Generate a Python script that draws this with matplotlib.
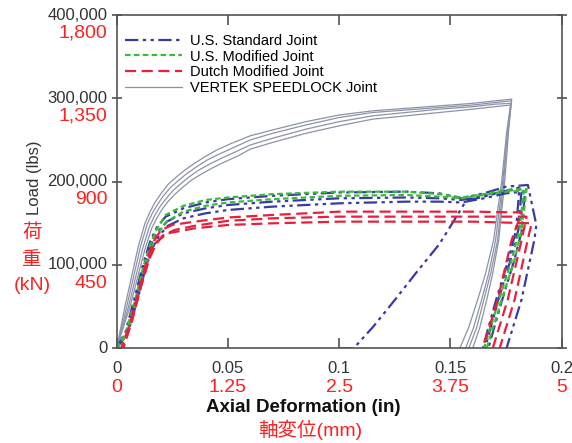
import numpy as np
import matplotlib
matplotlib.use("Agg")
import matplotlib.pyplot as plt

plt.rcParams["font.family"] = ["Liberation Sans", "Noto Sans CJK JP", "DejaVu Sans"]

# ---- data: axial deformation (in) vs load (kips) ----
# VERTEK SPEEDLOCK joint (gray)
gA_x = [0, 0.0037, 0.0067, 0.0097, 0.0127, 0.0150, 0.0172, 0.020, 0.0232, 0.027, 0.0307, 0.035, 0.0397, 0.045, 0.0516,
        0.06, 0.07, 0.085, 0.1, 0.115, 0.13, 0.145, 0.16, 0.17,
        0.1775, 0.1761, 0.1744, 0.1717, 0.1690, 0.1663, 0.1632, 0.1600]
gA_y = [0, 50, 86, 122, 150, 164, 175, 186, 197, 206, 214, 222, 230, 238, 246,
        255, 262, 272, 280, 285, 288, 291, 294, 297,
        299, 260, 200, 130, 90, 58, 25, 0]
gB_x = [0, 0.0045, 0.0076, 0.0107, 0.0137, 0.016, 0.0182, 0.021, 0.0242, 0.028, 0.0317, 0.036, 0.0407, 0.046, 0.0526,
        0.06, 0.07, 0.085, 0.1, 0.115, 0.13, 0.145, 0.16, 0.17,
        0.1775, 0.1757, 0.1735, 0.1703, 0.1672, 0.1640, 0.1604, 0.1568]
gB_y = [0, 50, 86, 122, 149, 162, 172, 183, 193, 202, 210, 218, 226, 233, 241,
        250, 258, 268, 277, 283, 286, 289, 292, 295,
        297, 260, 200, 130, 90, 58, 25, 0]
gC_x = [0, 0.0053, 0.0085, 0.0117, 0.0147, 0.017, 0.0192, 0.022, 0.0252, 0.029, 0.0327, 0.037, 0.0417, 0.047, 0.0536,
        0.06, 0.07, 0.085, 0.1, 0.115, 0.13, 0.145, 0.16, 0.17,
        0.1771, 0.1753, 0.1730, 0.1694, 0.1658, 0.1622, 0.1582, 0.1542]
gC_y = [0, 50, 85, 120, 146, 159, 169, 179, 189, 198, 206, 214, 221, 228, 236,
        244, 252, 263, 272, 279, 283, 287, 290, 293,
        294, 260, 200, 130, 90, 58, 25, 0]
gD_x = [0, 0.006, 0.0094, 0.0127, 0.0157, 0.018, 0.0202, 0.023, 0.0262, 0.030, 0.0337, 0.038, 0.0427, 0.048, 0.0546,
        0.06, 0.07, 0.085, 0.1, 0.115, 0.13, 0.145, 0.16, 0.17,
        0.1771, 0.1757, 0.1739, 0.1712, 0.1681, 0.1650, 0.1618, 0.1582]
gD_y = [0, 50, 85, 119, 144, 156, 166, 176, 185, 194, 202, 209, 216, 223, 231,
        239, 247, 258, 267, 275, 279, 283, 287, 290,
        292, 260, 200, 130, 90, 58, 25, 0]

# U.S. Standard joint (blue)
b1_x = [0, 0.004, 0.008, 0.012, 0.015, 0.018, 0.022, 0.03, 0.04, 0.05, 0.07, 0.1, 0.13, 0.145, 0.155, 0.165, 0.175,
        0.1848, 0.1886, 0.1877, 0.1819, 0.1752]
b1_y = [0, 20, 60, 102, 128, 145, 158, 168, 175, 179, 183, 187, 188, 186, 180, 186, 194, 196, 148, 130, 58, 0]
b2_x = [0, 0.0045, 0.0085, 0.0125, 0.0155, 0.0185, 0.0225, 0.03, 0.04, 0.05, 0.07, 0.1, 0.13, 0.145, 0.155, 0.165,
        0.175, 0.182, 0.1805, 0.177, 0.1715, 0.1655]
b2_y = [0, 20, 58, 100, 125, 140, 152, 162, 168, 172, 176, 180, 181, 180, 178, 183, 189, 191, 142, 106, 58, 0]
b3_x = [0, 0.005, 0.009, 0.013, 0.016, 0.019, 0.023, 0.03, 0.04, 0.05, 0.07, 0.1, 0.13, 0.145, 0.155, 0.165, 0.175,
        0.1835, 0.182, 0.1785, 0.173, 0.167]
b3_y = [0, 18, 55, 96, 120, 135, 147, 156, 162, 166, 170, 174, 176, 176, 175, 180, 186, 188, 140, 104, 56, 0]
b4_x = [0.1005, 0.1065, 0.115, 0.125, 0.135, 0.145, 0.152, 0.157, 0.165, 0.175, 0.181, 0.1795, 0.176, 0.1705, 0.1645]
b4_y = [0, 0, 25, 58, 92, 125, 155, 177, 182, 189, 193, 142, 106, 58, 0]

# U.S. Modified joint (green)
m1_x = [0, 0.004, 0.008, 0.012, 0.015, 0.018, 0.022, 0.03, 0.04, 0.05, 0.07, 0.1, 0.13, 0.145, 0.155, 0.165, 0.175,
        0.1842, 0.1835, 0.182, 0.1788, 0.173, 0.1663]
m1_y = [0, 18, 55, 98, 124, 143, 160, 171, 178, 181, 185, 188, 188, 185, 181, 185, 190, 191, 175, 142, 106, 58, 0]
m2_x = [0, 0.0045, 0.0085, 0.0125, 0.0155, 0.0185, 0.0225, 0.03, 0.04, 0.05, 0.07, 0.1, 0.13, 0.145, 0.155, 0.165,
        0.175, 0.183, 0.181, 0.1775, 0.1718, 0.165]
m2_y = [0, 17, 52, 95, 120, 138, 152, 164, 171, 175, 179, 183, 184, 182, 180, 184, 188, 189, 142, 106, 58, 0]

# Dutch Modified joint (red)
r1_x = [0, 0.002, 0.006, 0.01, 0.014, 0.017, 0.02, 0.025, 0.035, 0.05, 0.07, 0.1, 0.13, 0.16, 0.182, 0.1775, 0.1712,
        0.1645]
r1_y = [0, 0, 30, 70, 110, 130, 142, 148, 152, 157, 160, 164, 164, 164, 163, 130, 58, 0]
r2_x = [0, 0.0025, 0.0065, 0.0105, 0.0145, 0.0175, 0.0205, 0.026, 0.035, 0.05, 0.07, 0.1, 0.13, 0.16, 0.1842, 0.182,
        0.1757, 0.169]
r2_y = [0, 0, 30, 70, 106, 124, 135, 142, 147, 153, 156, 158, 158, 158, 158, 130, 58, 0]
r3_x = [0, 0.003, 0.007, 0.011, 0.015, 0.018, 0.023, 0.035, 0.05, 0.07, 0.1, 0.13, 0.16, 0.1865, 0.1847, 0.1788,
        0.1721]
r3_y = [0, 0, 34, 76, 112, 128, 138, 144, 148, 150, 152, 152, 152, 150, 130, 58, 0]

series_labels = ["U.S. Standard Joint", "U.S. Modified Joint", "Dutch Modified Joint", "VERTEK SPEEDLOCK Joint"]

x_ticks = [0, 0.05, 0.1, 0.15, 0.2]
x_labels_in = ["0", "0.05", "0.1", "0.15", "0.2"]
x_labels_mm = ["0", "1.25", "2.5", "3.75", "5"]
y_ticks = [0, 100000, 200000, 300000, 400000]
y_labels_lbs = ["0", "100,000", "200,000", "300,000", "400,000"]
y_labels_kn = ["", "450", "900", "1,350", "1,800"]

BLACK = "#333333"
RED = "#ff2020"
GRAY = "#8c93a8"
BLUE = "#3a3aa6"
GREEN = "#3cb83c"
CRIMSON = "#e8203c"

fig = plt.figure(figsize=(5.72, 4.43), dpi=100)
ax = fig.add_axes([0.204, 0.2138, 0.778, 0.7523])

gray_style = dict(color=GRAY, lw=0.9, ls="-")
blue_style = dict(color=BLUE, lw=1.6, ls=(0, (6, 2, 1.5, 2, 1.5, 2)))
green_style = dict(color=GREEN, lw=1.6, ls=(0, (2.5, 1.5)))
red_style = dict(color=CRIMSON, lw=1.6, ls=(0, (5, 2.5)))

handles = {}
for xs, ys in [(gA_x, gA_y), (gB_x, gB_y), (gC_x, gC_y), (gD_x, gD_y)]:
    handles["g"], = ax.plot(xs, np.array(ys) * 1000, **gray_style)
for xs, ys in [(b1_x, b1_y), (b2_x, b2_y), (b3_x, b3_y), (b4_x, b4_y)]:
    handles["b"], = ax.plot(xs, np.array(ys) * 1000, **blue_style)
for xs, ys in [(m1_x, m1_y), (m2_x, m2_y)]:
    handles["m"], = ax.plot(xs, np.array(ys) * 1000, **green_style)
for xs, ys in [(r1_x, r1_y), (r2_x, r2_y), (r3_x, r3_y)]:
    handles["r"], = ax.plot(xs, np.array(ys) * 1000, **red_style)

ax.set_xlim(0, 0.2)
ax.set_ylim(0, 400000)
ax.set_xticks(x_ticks)
ax.set_yticks(y_ticks)
ax.set_xticklabels([])
ax.set_yticklabels([])
ax.tick_params(axis="both", which="both", direction="in", length=7, width=1.1, color="#444444",
               top=True, right=True)
ax.tick_params(axis="y", which="both", direction="inout", left=True)
for s in ax.spines.values():
    s.set_color("#555555")
    s.set_linewidth(1.2)

# dual tick labels (imperial black, metric red)
for xv, lb, lm in zip(x_ticks, x_labels_in, x_labels_mm):
    ax.annotate(lb, xy=(xv, 0), xycoords=("data", "axes fraction"), xytext=(0, -14.5),
                textcoords="offset points", ha="center", va="center", fontsize=12, color=BLACK)
    ax.annotate(lm, xy=(xv, 0), xycoords=("data", "axes fraction"), xytext=(0, -28.5),
                textcoords="offset points", ha="center", va="center", fontsize=14, color=RED)
for yv, lb, lk in zip(y_ticks, y_labels_lbs, y_labels_kn):
    ax.annotate(lb, xy=(0, yv), xycoords=("axes fraction", "data"), xytext=(-6.5, 0),
                textcoords="offset points", ha="right", va="center", fontsize=12, color=BLACK)
    if lk:
        ax.annotate(lk, xy=(0, yv), xycoords=("axes fraction", "data"), xytext=(-6.5, -13),
                    textcoords="offset points", ha="right", va="center", fontsize=14, color=RED)

fig.text(303 / 572, 1 - 408 / 443, "Axial Deformation (in)", ha="center", va="center",
         fontsize=13.5, fontweight="bold", color="#111111")
fig.text(310 / 572, 1 - 430 / 443, "軸変位(mm)", ha="center", va="center", fontsize=14, color=RED)
fig.text(35 / 572, 1 - 178 / 443, "Load (lbs)", ha="center", va="center", rotation=90,
         fontsize=12, color=BLACK)
fig.text(32 / 572, 1 - 233 / 443, "荷", ha="center", va="center", fontsize=14, color=RED)
fig.text(32 / 572, 1 - 260 / 443, "重", ha="center", va="center", fontsize=14, color=RED)
fig.text(32 / 572, 1 - 286 / 443, "(kN)", ha="center", va="center", fontsize=14, color=RED)

ax.legend([handles["b"], handles["m"], handles["r"], handles["g"]], series_labels,
          loc="upper left", bbox_to_anchor=(0.0, 0.97), frameon=False, fontsize=10.5,
          handlelength=3.9, handletextpad=0.5, labelspacing=0.12, borderaxespad=0.2)

fig.savefig("out.png", dpi=100)
